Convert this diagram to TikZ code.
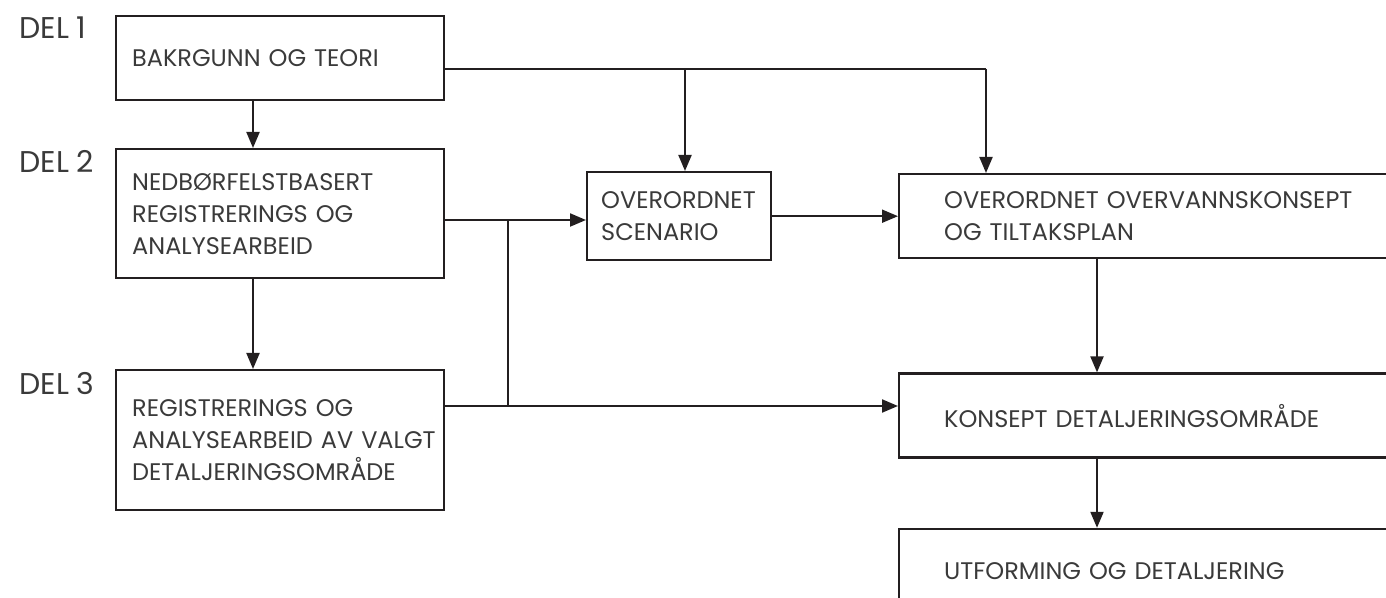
\documentclass[tikz,border=0pt]{standalone}
\usepackage{fontspec}
\setmainfont{Poppins}
\usepackage{tikz}
\usetikzlibrary{arrows.meta,positioning,calc}
\definecolor{ink}{HTML}{231F20}
\definecolor{txt}{HTML}{3A3A3A}

\begin{document}
\begin{tikzpicture}[
  x=1pt,y=-1pt,
  stage/.style={draw=ink,line width=1.2pt,align=left,anchor=north west,
    inner xsep=8pt,inner ysep=0pt,text width=148pt,text=txt,
    font=\fontsize{12}{16}\selectfont},
  mid/.style={stage,inner xsep=7pt,text width=78pt,minimum height=44pt},
  wide/.style={stage,inner xsep=22.5pt,text width=300pt,minimum height=42pt},
  part/.style={anchor=base west,inner sep=0pt,text=txt,font=\fontsize{15}{17}\selectfont},
  line/.style={draw=ink,line width=1pt},
  arr/.style={line,-{Triangle[length=8pt,width=6.5pt]}}
]
\useasboundingbox (0,0) rectangle (693,299);
\clip (0,0) rectangle (693,299);

% left column
\node[part] (del1) at (9.5,19.5) {DEL 1};
\node[part] (del2) at (9.5,86.5) {DEL 2};
\node[part] (del3) at (9.5,197) {DEL 3};

\node[stage,minimum height=42pt] (teori) at (57.5,7.5) {BAKRGUNN OG TEORI};
\node[stage,minimum height=64.5pt] (nedbor) at (57.5,74)
  {NEDBØRFELSTBASERT\\REGISTRERINGS OG\\ANALYSEARBEID};
\node[stage,minimum height=70pt] (detalj) at (57.5,184.5)
  {REGISTRERINGS OG\\\mbox{ANALYSEARBEID AV VALGT}\\DETALJERINGSOMRÅDE};

% middle and right column
\node[mid] (scenario) at (293,85.5) {OVERORDNET\\SCENARIO};
\node[wide] (overvann) at (449,86.5) {OVERORDNET OVERVANNSKONSEPT\\OG TILTAKSPLAN};
\node[wide,below=56.5pt of overvann.south west,anchor=north west] (konsept)
  {KONSEPT DETALJERINGSOMRÅDE};
\node[wide,below=34.5pt of konsept.south west,anchor=north west] (utforming)
  {UTFORMING OG DETALJERING};

% helper points for the connectors
\coordinate (colL) at (126.5,0);
\coordinate (colR) at (548.5,0);
\coordinate (busA) at (342.5,34.5);
\coordinate (busB) at (493,34.5);
\coordinate (split) at (254,110);
\coordinate (join) at (254,203);

\draw[arr] (teori.south -| colL) -- (nedbor.north -| colL);
\draw[arr] (nedbor.south -| colL) -- (detalj.north -| colL);
\draw[line] (teori.east |- busA) -- (busB);
\draw[arr] (busA) -- (scenario.north -| busA);
\draw[arr] (busB) -- (overvann.north -| busB);
\draw[arr] (nedbor.east |- split) -- (scenario.west |- split);
\draw[line] (split) -- (join);
\draw[arr] (detalj.east |- join) -- (konsept.west |- join);
\draw[arr] (scenario.east) -- (overvann.west |- scenario.east);
\draw[arr] (overvann.south -| colR) -- (konsept.north -| colR);
\draw[arr] (konsept.south -| colR) -- (utforming.north -| colR);
\end{tikzpicture}
\end{document}
